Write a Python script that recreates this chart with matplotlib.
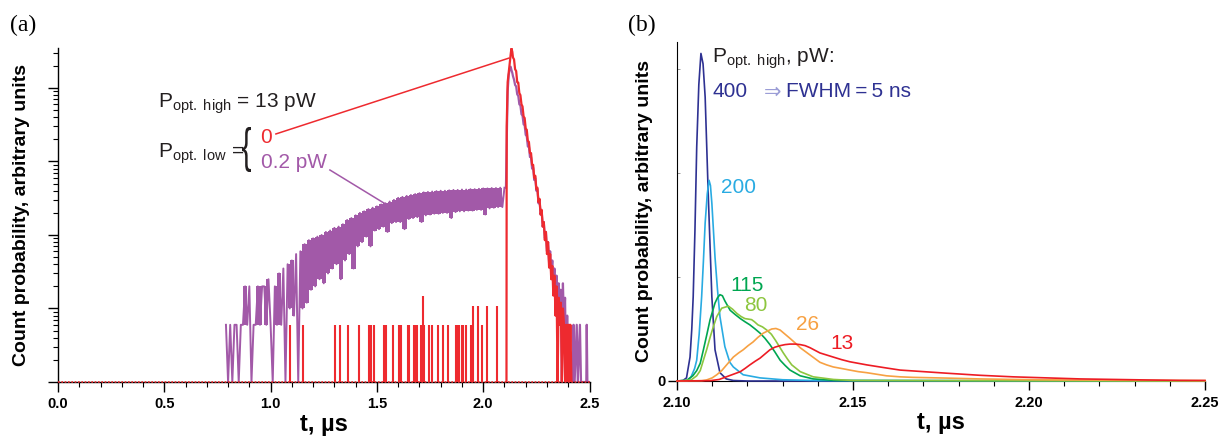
import numpy as np
import matplotlib
matplotlib.use("Agg")
import matplotlib.pyplot as plt
from matplotlib.ticker import MultipleLocator, FixedLocator, NullFormatter, LogLocator
from matplotlib.textpath import TextPath
from matplotlib.patches import PathPatch
from matplotlib.font_manager import FontProperties
import matplotlib.transforms as mtransforms

plt.rcParams['font.family'] = ['Liberation Sans', 'DejaVu Sans']
plt.rcParams['mathtext.fontset'] = 'custom'
plt.rcParams['mathtext.rm'] = 'Liberation Sans'
plt.rcParams['mathtext.it'] = 'Liberation Sans:italic'
plt.rcParams['mathtext.bf'] = 'Liberation Sans:bold'

# ---------------- Panel (a) data (counts, log scale; 1 = zero level) ----------------
purple_t0 = 0.79
purple_dt = 0.01
purple_vals = [
    6, 1, 6, 1, 6, 6, 1, 6, 6, 20,
    6, 20, 1, 6, 6, 20, 6, 20, 20, 6,
    25, 6, 1, 20, 6, 30, 6, 35, 1, 40,
    10, 45, 8, 55, 1, 60, 10, 75, 12, 85,
    18, 90, 20, 95, 25, 100, 22, 110, 30, 115,
    35, 125, 40, 130, 25, 140, 45, 160, 55, 170,
    35, 185, 70, 200, 80, 210, 95, 225, 70, 235,
    115, 245, 120, 260, 130, 270, 110, 285, 145, 300,
    150, 320, 150, 330, 120, 340, 165, 350, 170, 360,
    175, 370, 150, 380, 185, 385, 190, 390, 195, 395,
    195, 400, 200, 400, 200, 405, 170, 410, 205, 410,
    210, 415, 210, 415, 215, 420, 215, 420, 220, 425,
    220, 430, 190, 430, 230, 435, 235, 435, 240, 440,
    240, 440,
]
purple_peak_t = [2.107, 2.110, 2.115, 2.120, 2.125, 2.129, 2.133, 2.137, 2.140, 2.145,
                 2.150, 2.155, 2.160, 2.165, 2.170, 2.175, 2.180, 2.185, 2.190, 2.195,
                 2.200, 2.205, 2.210, 2.215, 2.220, 2.225, 2.230, 2.235, 2.240, 2.245,
                 2.250, 2.255, 2.260, 2.265, 2.270, 2.275, 2.280, 2.285, 2.290, 2.295,
                 2.300, 2.305, 2.310, 2.315, 2.320, 2.325, 2.330, 2.335, 2.340, 2.345,
                 2.350, 2.355, 2.360, 2.365, 2.370, 2.375, 2.380, 2.385, 2.390, 2.395,
                 2.400, 2.405, 2.410, 2.420, 2.425, 2.430, 2.440, 2.445, 2.455, 2.460,
                 2.485, 2.487, 2.490, 2.500]
purple_peak_v = [440, 1500, 9000, 15000, 18500, 19500, 17500, 16000, 14500, 13000,
                 11000, 10500, 8200, 7800, 6000, 5800, 4400, 4200, 3200, 3100,
                 2300, 2200, 1600, 1600, 1150, 1150, 800, 820, 560, 600,
                 400, 420, 270, 300, 190, 210, 130, 150, 90, 110,
                 60, 80, 42, 60, 30, 45, 20, 35, 12, 28,
                 8, 22, 6, 18, 1, 22, 6, 14, 1, 8,
                 1, 6, 1, 1, 6, 1, 6, 1, 6, 1,
                 1, 6, 1, 1]

red_spike_t = [1.091, 1.151, 1.303, 1.326, 1.366, 1.416, 1.463, 1.471, 1.488, 1.535,
               1.541, 1.577, 1.604, 1.612, 1.648, 1.652, 1.676, 1.684, 1.690, 1.706,
               1.718, 1.723, 1.745, 1.761, 1.789, 1.812, 1.836, 1.871, 1.878, 1.888,
               1.899, 1.906, 1.919, 1.941, 1.951, 1.974, 1.993, 2.019, 2.066]
red_spike_v = [6, 6, 6, 6, 6, 6, 6, 6, 6, 6,
               6, 6, 6, 6, 6, 6, 6, 6, 6, 6,
               15, 6, 6, 6, 6, 6, 6, 6, 6, 6,
               6, 6, 6, 6, 10.7, 10.7, 6, 10.7, 10.7]

red_peak_t = [2.1095, 2.1105, 2.115, 2.125, 2.130, 2.133, 2.137, 2.140, 2.145, 2.150,
              2.155, 2.160, 2.165, 2.170, 2.175, 2.180, 2.185, 2.190, 2.195, 2.200,
              2.205, 2.210, 2.215, 2.220, 2.225, 2.230, 2.235, 2.240, 2.245, 2.250,
              2.255, 2.260, 2.265, 2.270, 2.275, 2.280, 2.285, 2.290, 2.295, 2.300,
              2.305, 2.310, 2.315, 2.320, 2.325, 2.330, 2.335, 2.340, 2.345, 2.350,
              2.355, 2.360, 2.365, 2.370, 2.375, 2.380, 2.385, 2.390, 2.395, 2.400,
              2.405, 2.410, 2.415]
red_peak_v = [1, 3000, 12000, 22000, 30000, 34500, 31000, 26000, 24500, 18000,
              17000, 12000, 11800, 8500, 8000, 6000, 5600, 4100, 3900, 2800,
              2700, 1900, 1850, 1300, 1300, 900, 900, 600, 640, 420,
              440, 280, 310, 190, 220, 130, 150, 85, 110, 55,
              80, 36, 55, 25, 38, 15, 28, 8, 20, 1,
              14, 6, 12, 1, 10, 6, 1, 6, 1, 6,
              1, 6, 1]

# ---------------- Panel (b) data ----------------
b_labels = ['400', '200', '115', '80', '26', '13']
b_colors = ['#2e3192', '#29abe2', '#00a651', '#8dc63f', '#f7a143', '#ed1c24']
t400 = [2.100, 2.1017, 2.1027, 2.1037, 2.1042, 2.1046, 2.1051, 2.1056, 2.1062, 2.1068,
        2.1074, 2.1080, 2.1089, 2.1099, 2.1108, 2.1122, 2.1140, 2.1160, 2.1200, 2.250]
y400 = [0, 0.005, 0.03, 0.23, 0.50, 0.81, 1.45, 2.25, 2.85, 3.15,
        3.05, 2.73, 1.77, 0.81, 0.30, 0.08, 0.02, 0.005, 0, 0]
t200 = [2.100, 2.1030, 2.1040, 2.1050, 2.1056, 2.1063, 2.1070, 2.1075, 2.1080, 2.1086,
        2.1091, 2.1095, 2.1099, 2.1108, 2.1115, 2.1122, 2.1136, 2.1150, 2.1160, 2.1188,
        2.1236, 2.130, 2.140, 2.250]
y200 = [0, 0.005, 0.04, 0.12, 0.2, 0.45, 0.81, 1.15, 1.52, 1.80,
        1.93, 1.88, 1.71, 1.19, 0.88, 0.62, 0.33, 0.18, 0.135, 0.06,
        0.03, 0.012, 0.004, 0]
t115 = [2.100, 2.1027, 2.1045, 2.1056, 2.1066, 2.1075, 2.1085, 2.1094, 2.1108, 2.1115,
        2.1122, 2.1129, 2.1136, 2.1151, 2.1165, 2.118, 2.1193, 2.1207, 2.1222, 2.1236,
        2.125, 2.1264, 2.1278, 2.1293, 2.1307, 2.1321, 2.135, 2.1387, 2.145, 2.250]
y115 = [0, 0.005, 0.05, 0.10, 0.17, 0.30, 0.45, 0.59, 0.75, 0.80,
        0.83, 0.82, 0.77, 0.68, 0.64, 0.60, 0.57, 0.54, 0.50, 0.46,
        0.41, 0.35, 0.28, 0.20, 0.15, 0.105, 0.05, 0.02, 0.005, 0]
t80 = [2.100, 2.1040, 2.1056, 2.1066, 2.1075, 2.1085, 2.1094, 2.1104, 2.1113, 2.1127,
       2.1146, 2.1158, 2.117, 2.1182, 2.1193, 2.1203, 2.1212, 2.122, 2.123, 2.1243,
       2.1255, 2.1268, 2.128, 2.1291, 2.1302, 2.1314, 2.1326, 2.135, 2.1387, 2.1444,
       2.150, 2.250]
y80 = [0, 0.01, 0.05, 0.10, 0.2, 0.31, 0.42, 0.53, 0.62, 0.70,
       0.72, 0.69, 0.65, 0.62, 0.60, 0.595, 0.59, 0.57, 0.54, 0.52,
       0.49, 0.45, 0.39, 0.33, 0.27, 0.21, 0.155, 0.09, 0.04, 0.015,
       0.005, 0]
t26 = [2.100, 2.1070, 2.1084, 2.110, 2.1113, 2.1127, 2.1141, 2.116, 2.1175, 2.1188,
       2.1202, 2.1216, 2.123, 2.1245, 2.1257, 2.1269, 2.1281, 2.1293, 2.1307, 2.1321,
       2.1336, 2.135, 2.1364, 2.1378, 2.1392, 2.1406, 2.1425, 2.1444, 2.1468, 2.1491,
       2.1515, 2.1539, 2.1567, 2.1595, 2.1634, 2.167, 2.1766, 2.1860, 2.1955, 2.210,
       2.230, 2.250]
y26 = [0, 0.003, 0.01, 0.03, 0.06, 0.10, 0.155, 0.23, 0.27, 0.30,
       0.34, 0.375, 0.42, 0.46, 0.48, 0.50, 0.505, 0.49, 0.45, 0.41,
       0.365, 0.32, 0.285, 0.25, 0.215, 0.18, 0.155, 0.135, 0.12, 0.105,
       0.09, 0.08, 0.065, 0.05, 0.04, 0.035, 0.028, 0.02, 0.015, 0.01,
       0.006, 0.004]
t13 = [2.100, 2.1094, 2.112, 2.114, 2.116, 2.118, 2.1193, 2.1207, 2.1222, 2.1236,
       2.125, 2.1264, 2.1278, 2.1293, 2.1307, 2.1321, 2.1336, 2.135, 2.1364, 2.1378,
       2.1392, 2.1406, 2.1425, 2.1444, 2.1468, 2.1491, 2.1515, 2.1539, 2.1567, 2.1595,
       2.1634, 2.1700, 2.1766, 2.1860, 2.1955, 2.205, 2.2145, 2.2240, 2.2335, 2.243,
       2.250]
y13 = [0, 0.003, 0.015, 0.04, 0.065, 0.09, 0.12, 0.155, 0.19, 0.22,
       0.26, 0.30, 0.325, 0.34, 0.35, 0.355, 0.355, 0.35, 0.34, 0.32,
       0.295, 0.27, 0.25, 0.23, 0.205, 0.185, 0.17, 0.155, 0.14, 0.125,
       0.105, 0.09, 0.075, 0.055, 0.04, 0.03, 0.02, 0.015, 0.01, 0.006,
       0.005]
b_t = [t400, t200, t115, t80, t26, t13]
b_y = [y400, y200, y115, y80, y26, y13]

PURPLE = '#a259a8'
RED = '#ee2a2f'
TXT = '#231f20'

W, H = 1229, 446
fig = plt.figure(figsize=(W / 100, H / 100), dpi=100)

def axrect(l, t, r, b):
    return [l / W, 1 - b / H, (r - l) / W, (b - t) / H]

# ---------------- Panel (a) ----------------
ax = fig.add_axes(axrect(58, 48, 589.5, 382))
pv = np.asarray(purple_vals, dtype=float)
pt = purple_t0 + purple_dt * np.arange(len(pv))
# dense noisy band: fill between consecutive samples where both are non-zero
lo = np.minimum(pv[:-1], pv[1:])
hi = np.maximum(pv[:-1], pv[1:])
mask = lo > 1
ax.fill_between(pt[:-1], lo, hi, where=mask, step='post', color=PURPLE, lw=0, zorder=2)
ax.plot(pt, pv, color=PURPLE, lw=1.4, zorder=2)
ax.plot(purple_peak_t, purple_peak_v, color=PURPLE, lw=1.6, zorder=2)
ax.vlines(red_spike_t, 1, red_spike_v, color=RED, lw=1.5, zorder=3)
ax.plot(red_peak_t, red_peak_v, color=RED, lw=1.6, zorder=3)
ax.axhline(1, color=RED, lw=1.2, ls=(0, (1, 1)), zorder=4, clip_on=False)

ax.set_yscale('log')
ax.set_xlim(0, 2.5)
ax.set_ylim(1, 3.5e4)
ax.yaxis.set_major_locator(FixedLocator([1, 10, 100, 1e3, 1e4]))
ax.yaxis.set_minor_locator(LogLocator(base=10, subs=np.arange(2, 10)))
ax.yaxis.set_major_formatter(NullFormatter())
ax.yaxis.set_minor_formatter(NullFormatter())
ax.xaxis.set_minor_locator(MultipleLocator(0.1))
ax.set_xticks([0, 0.5, 1.0, 1.5, 2.0, 2.5])
ax.set_xticklabels(['0.0', '0.5', '1.0', '1.5', '2.0', '2.5'])
for s in ['top', 'right']:
    ax.spines[s].set_visible(False)
ax.spines['left'].set_linewidth(1.0)
ax.spines['bottom'].set_linewidth(1.0)
ax.tick_params(axis='both', which='major', direction='out', length=7, width=1.0)
ax.tick_params(axis='both', which='minor', direction='out', length=3.5, width=0.8)
ax.tick_params(axis='x', which='major', pad=4, labelsize=10.5)
for lab in ax.get_xticklabels():
    lab.set_fontweight('bold')
ax.set_xlabel('t, µs', fontsize=17, fontweight='bold', labelpad=1)
ax.set_ylabel('Count probability, arbitrary units', fontsize=14, fontweight='bold', labelpad=10)

# annotations panel (a)
ax.text(0.188, 0.820, r'P$_\mathrm{opt.\ high}$ = 13 pW', transform=ax.transAxes,
        fontsize=15, va='baseline', ha='left', color=TXT)
ax.text(0.188, 0.671, r'P$_\mathrm{opt.\ low}$ =', transform=ax.transAxes,
        fontsize=15, va='baseline', ha='left', color=TXT)
ax.text(0.381, 0.716, '0', transform=ax.transAxes, fontsize=15, va='baseline', ha='left', color=RED)
ax.text(0.381, 0.641, '0.2 pW', transform=ax.transAxes, fontsize=15, va='baseline', ha='left', color=PURPLE)
ax.plot([1.025, 2.121], [2370, 25500], color=RED, lw=1.1, zorder=5)
ax.plot([1.279, 1.548], [766, 256], color=PURPLE, lw=1.1, zorder=5)

# thin stretched curly brace (glyph outline scaled vertically)
brace = TextPath((0, 0), '{', size=20, prop=FontProperties(family='Liberation Sans'))
ext = brace.get_extents()
bl, bt, br, bb = 242, 127, 251, 172   # target box in pixels (top-left origin)
btr = (mtransforms.Affine2D()
       .translate(-ext.x0, -ext.y0)
       .scale((br - bl) / ext.width, (bb - bt) / ext.height)
       .translate(bl, H - bb))
fig.add_artist(PathPatch(brace, transform=btr, facecolor=TXT, edgecolor='none'))

fig.text(10 / W, 1 - 25 / H, '(a)', fontsize=17, family='Liberation Serif', va='center', ha='left')
fig.text(628 / W, 1 - 25 / H, '(b)', fontsize=17, family='Liberation Serif', va='center', ha='left')

# ---------------- Panel (b) ----------------
bx = fig.add_axes(axrect(677, 42, 1205, 381))
for tt, yy, c in zip(b_t, b_y, b_colors):
    bx.plot(tt, yy, color=c, lw=1.2, clip_on=False, zorder=3)
bx.set_xlim(2.10, 2.25)
bx.set_ylim(0, 3.26)
for s in ['top', 'right']:
    bx.spines[s].set_visible(False)
bx.xaxis.set_minor_locator(MultipleLocator(0.01))
bx.set_xticks([2.10, 2.15, 2.20, 2.25])
bx.set_xticklabels(['2.10', '2.15', '2.20', '2.25'])
bx.yaxis.set_major_locator(FixedLocator([0]))
bx.yaxis.set_minor_locator(FixedLocator([1, 2, 3]))
bx.set_yticklabels(['0'])
bx.tick_params(axis='x', which='major', direction='out', length=6.5, width=1.0, pad=4, labelsize=10.5)
bx.tick_params(axis='x', which='minor', direction='out', length=3.5, width=0.8)
bx.tick_params(axis='y', which='major', direction='out', length=6.5, width=1.0, pad=2, labelsize=10.5)
bx.tick_params(axis='y', which='minor', direction='in', length=2, width=0.6, color='#888888')
for lab in bx.get_xticklabels() + bx.get_yticklabels():
    lab.set_fontweight('bold')
bx.set_xlabel('t, µs', fontsize=17, fontweight='bold', labelpad=1)
bx.set_ylabel('Count probability, arbitrary units', fontsize=14, fontweight='bold', labelpad=3)

bx.text(2.1100, 3.10, r'P$_\mathrm{opt.\ high}$, pW:', fontsize=15, va='center', ha='left', color=TXT)
bx.text(2.1100, 2.78, '400', fontsize=15, va='center', ha='left', color=b_colors[0])
bx.text(2.1248, 2.78, '\u21d2', fontsize=15, va='center', ha='left', color='#9b9dd6',
        family=['DejaVu Sans'])
bx.text(2.1310, 2.78, 'FWHM\u2009=\u20095 ns', fontsize=15, va='center', ha='left', color=b_colors[0],
        family=['Liberation Sans', 'DejaVu Sans'])
bx.text(2.1125, 1.856, '200', fontsize=15, va='center', ha='left', color=b_colors[1])
bx.text(2.1153, 0.923, '115', fontsize=15, va='center', ha='left', color=b_colors[2])
bx.text(2.1190, 0.73, '80', fontsize=15, va='center', ha='left', color=b_colors[3])
bx.text(2.1338, 0.54, '26', fontsize=15, va='center', ha='left', color=b_colors[4])
bx.text(2.1435, 0.365, '13', fontsize=15, va='center', ha='left', color=b_colors[5])

fig.savefig('out.png', dpi=100)
